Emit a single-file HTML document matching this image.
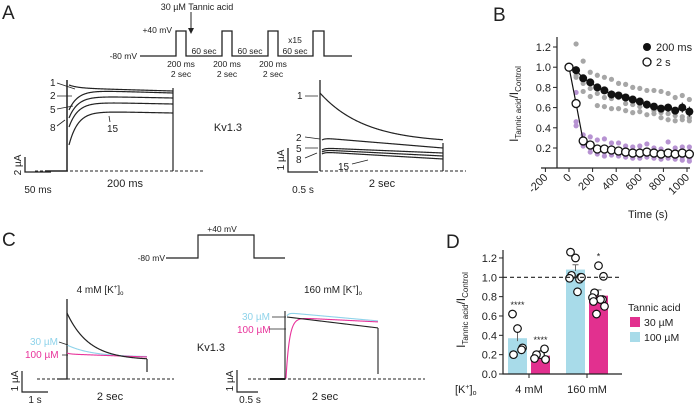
<!DOCTYPE html>
<html><head><meta charset="utf-8"><style>
html,body{margin:0;padding:0;background:#fff}
svg{display:block;font-family:"Liberation Sans",Arial,sans-serif}
</style></head><body>
<svg id="fig" width="700" height="404" viewBox="0 0 700 404" xmlns="http://www.w3.org/2000/svg">
<!-- Panel A -->
<g fill="none" stroke="#222" stroke-width="1.3">
<text x="2" y="19" font-size="19" fill="#222" stroke="none">A</text>
<text x="197" y="10" font-size="9" text-anchor="middle" fill="#222" stroke="none">30 µM Tannic acid</text>
<line x1="191" y1="12" x2="191" y2="31" stroke-width="1"/>
<path d="M188,28 L191,34 L194,28 Z" fill="#222" stroke="none"/>
<path d="M140,56 H176 V31 H186 V56 H222 V31 H232 V56 H268 V31 H278 V56 H313 V31 H324 V56 H352"/>
<g fill="#222" stroke="none" font-size="8.5">
<text x="137" y="59" text-anchor="end">-80 mV</text>
<text x="172" y="33" text-anchor="end">+40 mV</text>
<text x="204" y="54" text-anchor="middle">60 sec</text>
<text x="250" y="54" text-anchor="middle">60 sec</text>
<text x="295" y="54" text-anchor="middle">60 sec</text>
<text x="295" y="43" text-anchor="middle">x15</text>
<text x="181" y="67" text-anchor="middle">200 ms</text><text x="181" y="77" text-anchor="middle">2 sec</text>
<text x="227" y="67" text-anchor="middle">200 ms</text><text x="227" y="77" text-anchor="middle">2 sec</text>
<text x="273" y="67" text-anchor="middle">200 ms</text><text x="273" y="77" text-anchor="middle">2 sec</text>
</g>
<g id="traceA1"></g>
<g id="traceA2"></g>
<line x1="35" y1="171" x2="203" y2="171" stroke-dasharray="3,2" stroke-width="1"/>
<line x1="320" y1="171" x2="466" y2="171" stroke-dasharray="3,2" stroke-width="1"/>
<g fill="#222" stroke="none" font-size="10">
<text x="50" y="86">1</text><text x="50" y="99">2</text><text x="50" y="113">5</text><text x="50" y="131">8</text><text x="107" y="132">15</text>
<text x="297" y="99">1</text><text x="296" y="141">2</text><text x="296" y="152">5</text><text x="296" y="163">8</text><text x="338" y="170">15</text>
</g>
<g stroke-width="0.8">
<path d="M57,83 L75,89 M57,96 L72,96 M57,109 L73,106 M57,126 L65,120 M110,122 L109,116"/>
<path d="M305,96 L318,96 M305,137 L320,139 M305,148 L318,148 M305,158 L317,153 M352,164 L368,160"/>
</g>
<path d="M25,157 V172 H51"/>
<text x="21" y="165" font-size="10" fill="#222" stroke="none" text-anchor="middle" transform="rotate(-90 21 165)">2 µA</text>
<text x="38" y="193" font-size="10" fill="#222" stroke="none" text-anchor="middle">50 ms</text>
<text x="125" y="187" font-size="11" fill="#222" stroke="none" text-anchor="middle">200 ms</text>
<text x="228" y="131" font-size="11" fill="#222" stroke="none" text-anchor="middle">Kv1.3</text>
<path d="M288,148 V172 H318"/>
<text x="284" y="160" font-size="10" fill="#222" stroke="none" text-anchor="middle" transform="rotate(-90 284 160)">1 µA</text>
<text x="303" y="193" font-size="10" fill="#222" stroke="none" text-anchor="middle">0.5 s</text>
<text x="382" y="187" font-size="11" fill="#222" stroke="none" text-anchor="middle">2 sec</text>
</g>

<!-- Panel B -->
<g>
<text x="493" y="21" font-size="19" fill="#222">B</text>
<g id="chartB"></g>
</g>

<!-- Panel C -->
<g fill="none" stroke="#222" stroke-width="1.2">
<text x="2" y="246" font-size="19" fill="#222" stroke="none">C</text>
<path d="M166,258 H198 V235 H254 V258 H285"/>
<text x="165" y="261" font-size="8.5" fill="#222" stroke="none" text-anchor="end">-80 mV</text>
<text x="222" y="232" font-size="8.5" fill="#222" stroke="none" text-anchor="middle">+40 mV</text>
<text x="100" y="293" font-size="10" fill="#222" stroke="none" text-anchor="middle">4 mM [K<tspan font-size="6" dy="-4">+</tspan><tspan dy="4">]</tspan><tspan font-size="6" dy="2">o</tspan></text>
<text x="333" y="293" font-size="10" fill="#222" stroke="none" text-anchor="middle">160 mM [K<tspan font-size="6" dy="-4">+</tspan><tspan dy="4">]</tspan><tspan font-size="6" dy="2">o</tspan></text>
<g id="traceC1"></g>
<g id="traceC2"></g>
<line x1="37" y1="379" x2="174" y2="379" stroke-dasharray="3,2" stroke-width="1"/>
<line x1="248" y1="379" x2="425" y2="379" stroke-dasharray="3,2" stroke-width="1"/>
<text x="30" y="345" font-size="10" fill="#8fd3ea" stroke="none">30 µM</text>
<text x="25" y="358" font-size="10" fill="#e8339b" stroke="none">100 µM</text>
<path d="M59,342 L68,345 M62,355 L68,355" stroke-width="0.8"/>
<text x="242" y="320" font-size="10" fill="#8fd3ea" stroke="none">30 µM</text>
<text x="237" y="333" font-size="10" fill="#e8339b" stroke="none">100 µM</text>
<path d="M272,317 L286,317 M269,329 L286,329" stroke-width="0.8"/>
<text x="211" y="351" font-size="11" fill="#222" stroke="none" text-anchor="middle">Kv1.3</text>
<path d="M22,371 V392 H48"/>
<text x="18" y="381" font-size="10" fill="#222" stroke="none" text-anchor="middle" transform="rotate(-90 18 381)">1 µA</text>
<text x="35" y="403" font-size="10" fill="#222" stroke="none" text-anchor="middle">1 s</text>
<text x="110" y="400" font-size="11" fill="#222" stroke="none" text-anchor="middle">2 sec</text>
<path d="M237,370 V392 H258"/>
<text x="233" y="381" font-size="10" fill="#222" stroke="none" text-anchor="middle" transform="rotate(-90 233 381)">1 µA</text>
<text x="250" y="403" font-size="10" fill="#222" stroke="none" text-anchor="middle">0.5 s</text>
<text x="325" y="400" font-size="11" fill="#222" stroke="none" text-anchor="middle">2 sec</text>
</g>

<!-- Panel D -->
<g>
<text x="446" y="248" font-size="19" fill="#222">D</text>
<g id="chartD"></g>
</g>
</svg>
<script>
// ---------- Panel B data ----------
const bTimes = [0,60,120,180,240,300,360,420,480,540,600,660,720,780,840,900,960,1020];
const bMean200 = [1.0,0.97,0.89,0.85,0.80,0.77,0.73,0.72,0.70,0.68,0.66,0.63,0.61,0.59,0.60,0.57,0.60,0.56];
const bErr200 = [0,0.04,0.03,0.03,0.03,0.03,0.04,0.03,0.03,0.03,0.03,0.04,0.03,0.03,0.04,0.03,0.05,0.05];
const bMean2s = [1.0,0.64,0.27,0.23,0.19,0.19,0.18,0.17,0.16,0.15,0.15,0.16,0.15,0.14,0.15,0.14,0.15,0.14];
const bGrayA = [1.0,1.23,1.06,0.95,0.92,0.90,0.88,0.84,0.83,0.80,0.79,0.77,0.77,0.76,0.74,0.70,0.72,0.68];
const bGrayB = [1.0,0.90,0.84,0.79,0.74,0.70,0.69,0.70,0.64,0.63,0.61,0.62,0.57,0.55,0.54,0.52,0.51,0.50];
const bGrayC = [1.0,0.92,0.76,0.71,0.62,0.61,0.59,0.59,0.57,0.55,0.56,0.53,0.54,0.50,0.48,0.47,0.48,0.47];
const bPurpA = [1.0,0.75,0.33,0.31,0.28,0.29,0.25,0.25,0.22,0.21,0.22,0.24,0.20,0.19,0.26,0.20,0.21,0.21];
const bPurpB = [1.0,0.46,0.22,0.16,0.14,0.12,0.13,0.12,0.11,0.10,0.10,0.11,0.10,0.09,0.10,0.09,0.08,0.07];
const bPurpC = [1.0,0.42,0.25,0.20,0.17,0.16,0.15,0.16,0.13,0.14,0.12,0.14,0.13,0.12,0.12,0.12,0.11,0.10];
const bYTicks = [0.2,0.4,0.6,0.8,1.0,1.2];
const bXTicks = [-200,0,200,400,600,800,1000];

// ---------- Panel D data ----------
const dGroups = ["4 mM","160 mM"];
const dMean100 = [0.37,1.08];
const dMean30 = [0.19,0.81];
const dErr100 = [0.10,0.05];
const dErr30 = [0.03,0.06];
const dPts100 = [[0.62,0.47,0.27,0.20,0.25],[1.26,1.20,1.00,1.02,0.98,0.99,0.85,1.00]];
const dPts30 = [[0.20,0.15,0.20,0.26,0.16],[1.12,1.01,0.84,0.77,0.79,0.77,0.70,0.62,0.75]];
const dStars100 = ["****",""];
const dStars30 = ["****","*"];
const dYTicks = [0.0,0.2,0.4,0.6,0.8,1.0,1.2];

const NS="http://www.w3.org/2000/svg";
function mk(parent,tag,attrs,text){const e=document.createElementNS(NS,tag);for(const k in attrs)e.setAttribute(k,attrs[k]);if(text!==undefined)e.textContent=text;parent.appendChild(e);return e;}

// ---------- Traces (panel A, C) ----------
function trace(parent,fn,x0,x1,color,w,name){let d="";for(let x=x0;x<=x1;x+=0.5){d+=(x===x0?"M":"L")+x.toFixed(1)+","+fn(x).toFixed(2)+" ";}
const p=mk(parent,"path",{d:d,fill:"none",stroke:color,"stroke-width":w});


return p;}
const tA1=document.getElementById("traceA1");
mk(tA1,"path",{d:"M45,171 H67 V80 M67,171 V150",fill:"none",stroke:"#222","stroke-width":1.5});
[[88,91,85],[90,93,110],[96,98,118],[102,104,127],[111,113,145]].forEach((t,i)=>{
 trace(tA1,x=>{const s=t[0]+(t[1]-t[0])*(x-69)/104;return s+(t[2]-t[0])*Math.exp(-(x-69)/9);},69,173,"#222",1.2,"trace-200ms-"+i);
});
mk(tA1,"line",{x1:173,y1:88,x2:173,y2:171,stroke:"#222","stroke-width":1.2});
const tA2=document.getElementById("traceA2");
mk(tA2,"line",{x1:320,y1:80,x2:320,y2:171,stroke:"#222","stroke-width":1.3});
trace(tA2,x=>143-50*Math.exp(-(x-320)/45)+ (x-320)*0.0,320,443,"#222",1.2,"trace-2s-1");
[[138,148],[148,153],[150,156],[152,159]].forEach((t,i)=>{trace(tA2,x=>t[0]+(t[1]-t[0])*(x-322)/121+2*Math.exp(-(x-322)/3),322,443,"#222",1.2,"trace-2s-"+(i+2));});
mk(tA2,"line",{x1:443,y1:143,x2:443,y2:171,stroke:"#222","stroke-width":1.2});

const tC1=document.getElementById("traceC1");
mk(tC1,"path",{d:"M57,379 H67 V299",fill:"none",stroke:"#222","stroke-width":1.3});
trace(tC1,x=>357+(345-357)*Math.exp(-(x-67)/25)-0*x,67,147,"#8fd3ea",1.1,"trace-4mm-30um");
trace(tC1,x=>357+(354-357)*(1-(x-67)/80)-1*Math.exp(-(x-67)/3),67,147,"#e8339b",1.1,"trace-4mm-100um");
trace(tC1,x=>360-47*Math.exp(-(x-67)/22),67,147,"#222",1.2,"trace-4mm-control");
mk(tC1,"line",{x1:147,y1:359,x2:147,y2:372,stroke:"#222","stroke-width":1.2});
const tC2=document.getElementById("traceC2");
mk(tC2,"path",{d:"M270,379 H285",fill:"none",stroke:"#222","stroke-width":2});
mk(tC2,"line",{x1:285,y1:311,x2:285,y2:379,stroke:"#222","stroke-width":1.1});
trace(tC2,x=>313+(x-290)*0.09+3*Math.exp(-(x-287)/2),287,378,"#8fd3ea",1.1,"trace-160mm-30um");
trace(tC2,x=>318+(x-300)*0.05+61*Math.exp(-(x-286)/3.5),286,378,"#e8339b",1.1,"trace-160mm-100um");
trace(tC2,x=>317+(x-287)*0.12,287,378,"#222",1.1,"trace-160mm-control");
mk(tC2,"line",{x1:378,y1:328,x2:378,y2:374,stroke:"#222","stroke-width":1.1});

// ---------- Chart B ----------
(function(){
const g=document.getElementById("chartB");
const X=t=>569+t*0.118, Y=v=>168.2-v*101;
const ax=mk(g,"path",{d:"M557,37 V168 M541,168 H690",fill:"none",stroke:"#222","stroke-width":1.2});


bYTicks.forEach(v=>{mk(g,"line",{x1:553,y1:Y(v),x2:557,y2:Y(v),stroke:"#222"});
 const t=mk(g,"text",{x:551,y:Y(v)+4,"font-size":11,"text-anchor":"end",fill:"#222"},v.toFixed(1));
 
 });
bXTicks.forEach(v=>{mk(g,"line",{x1:X(v),y1:168,x2:X(v),y2:172,stroke:"#222"});
 const t=mk(g,"text",{x:X(v)+3,y:178,"font-size":11,"text-anchor":"end",fill:"#222",transform:`rotate(-45 ${X(v)+3} 178)`},String(v));
 
 });
const xt=mk(g,"text",{x:648,y:218,"font-size":11,"text-anchor":"middle",fill:"#222"},"Time (s)");


const yt=mk(g,"text",{x:0,y:0,"font-size":12,"text-anchor":"middle",fill:"#222",transform:"translate(518,104) rotate(-90)"});


yt.innerHTML='I<tspan font-size="8" dy="3">Tannic acid</tspan><tspan dy="-3">/I</tspan><tspan font-size="8" dy="3">Control</tspan>';
[[bGrayA,"#a6a6a6"],[bGrayB,"#a6a6a6"],[bGrayC,"#a6a6a6"],[bPurpA,"#b793d2"],[bPurpB,"#b793d2"],[bPurpC,"#b793d2"]].forEach(s=>{
 s[0].forEach((v,i)=>{const c=mk(g,"circle",{cx:X(bTimes[i]),cy:Y(v),r:2.6,fill:s[1]});
 
 });});
let d1="",d2="";
bTimes.forEach((t,i)=>{d1+=(i?"L":"M")+X(t)+","+Y(bMean200[i]);d2+=(i?"L":"M")+X(t)+","+Y(bMean2s[i]);});
mk(g,"path",{d:d1,fill:"none",stroke:"#111","stroke-width":1.2});
mk(g,"path",{d:d2,fill:"none",stroke:"#111","stroke-width":1.2});
bTimes.forEach((t,i)=>{
 if(bErr200[i]>0) mk(g,"line",{x1:X(t),x2:X(t),y1:Y(bMean200[i]-bErr200[i]),y2:Y(bMean200[i]+bErr200[i]),stroke:"#111","stroke-width":1});
 const c=mk(g,"circle",{cx:X(t),cy:Y(bMean200[i]),r:4,fill:"#111"});
 
 
 const o=mk(g,"circle",{cx:X(t),cy:Y(bMean2s[i]),r:4,fill:"#fff",stroke:"#111","stroke-width":1.3});
 
 });
const l1=mk(g,"circle",{cx:647,cy:47,r:4,fill:"#111"});


mk(g,"text",{x:656,y:51,"font-size":11,fill:"#222"},"200 ms");
const l2=mk(g,"circle",{cx:647,cy:62,r:4,fill:"#fff",stroke:"#111","stroke-width":1.3});


mk(g,"text",{x:656,y:66,"font-size":11,fill:"#222"},"2 s");
})();

// ---------- Chart D ----------
(function(){
const g=document.getElementById("chartD");
const Y=v=>374-v*96.7;
const centers=[529,587], bw=19;
const cyan="#a8dbe9", mag="#e2308f";
dGroups.forEach((name,i)=>{
 const c=centers[i];
 const x1=c-bw-2, x2=c+2;
 const b1=mk(g,"rect",{x:x1,y:Y(dMean100[i]),width:bw,height:374-Y(dMean100[i]),fill:cyan});
 
 
 const b2=mk(g,"rect",{x:x2,y:Y(dMean30[i]),width:bw,height:374-Y(dMean30[i]),fill:mag});
 
 
 mk(g,"path",{d:`M${x1+bw/2},${Y(dMean100[i]-dErr100[i]*0.3)} V${Y(dMean100[i]+dErr100[i])} M${x1+bw/2-3},${Y(dMean100[i]+dErr100[i])} h6`,stroke:"#666","stroke-width":1,fill:"none"});
 mk(g,"path",{d:`M${x2+bw/2},${Y(dMean30[i])} V${Y(dMean30[i]+dErr30[i])} M${x2+bw/2-3},${Y(dMean30[i]+dErr30[i])} h6`,stroke:"#666","stroke-width":1,fill:"none"});
 const off=[-5,0,5,-4,4,-6,2,6,-2];
 dPts100[i].forEach((v,j)=>{const p=mk(g,"circle",{cx:x1+bw/2+off[j%off.length],cy:Y(v),r:3.8,fill:"#fff",stroke:"#111","stroke-width":1.2});
  
  });
 dPts30[i].forEach((v,j)=>{const p=mk(g,"circle",{cx:x2+bw/2+off[(j+1)%off.length],cy:Y(v),r:3.8,fill:"#fff",stroke:"#111","stroke-width":1.2});
  
  });
 if(dStars100[i]) mk(g,"text",{x:x1+bw/2,y:Y(Math.max(...dPts100[i]))-6,"font-size":9,"text-anchor":"middle",fill:"#222"},dStars100[i]);
 if(dStars30[i]) mk(g,"text",{x:x2+bw/2,y:Y(Math.max(...dPts30[i]))-6,"font-size":9,"text-anchor":"middle",fill:"#222"},dStars30[i]);
 mk(g,"line",{x1:c,x2:c,y1:374,y2:378,stroke:"#222"});
 const t=mk(g,"text",{x:c,y:393,"font-size":11,"text-anchor":"middle",fill:"#222"},name);
 
 
});
const dl=mk(g,"line",{x1:503,x2:622,y1:Y(1),y2:Y(1),stroke:"#222","stroke-dasharray":"4,3","stroke-width":1.2});


const ax=mk(g,"path",{d:"M503,250 V374 H622",fill:"none",stroke:"#222","stroke-width":1.2});


dYTicks.forEach(v=>{mk(g,"line",{x1:499,x2:503,y1:Y(v),y2:Y(v),stroke:"#222"});
 const t=mk(g,"text",{x:497,y:Y(v)+4,"font-size":11,"text-anchor":"end",fill:"#222"},v.toFixed(1));
 
 });
const kt=mk(g,"text",{x:455,y:393,"font-size":11,fill:"#222"});
kt.innerHTML='[K<tspan font-size="7" dy="-4">+</tspan><tspan dy="4">]</tspan><tspan font-size="7" dy="2">o</tspan>';


const yt=mk(g,"text",{x:0,y:0,"font-size":12,"text-anchor":"middle",fill:"#222",transform:"translate(465,310) rotate(-90)"});
yt.innerHTML='I<tspan font-size="8" dy="3">Tannic acid</tspan><tspan dy="-3">/I</tspan><tspan font-size="8" dy="3">Control</tspan>';


mk(g,"text",{x:628,y:311,"font-size":10.5,fill:"#222"},"Tannic acid");
const s1=mk(g,"rect",{x:630,y:317,width:10,height:10,fill:mag});


mk(g,"text",{x:644,y:326,"font-size":10.5,fill:"#222"},"30 µM");
const s2=mk(g,"rect",{x:630,y:332,width:10,height:10,fill:cyan});


mk(g,"text",{x:644,y:341,"font-size":10.5,fill:"#222"},"100 µM");
})();
</script>
</body></html>
